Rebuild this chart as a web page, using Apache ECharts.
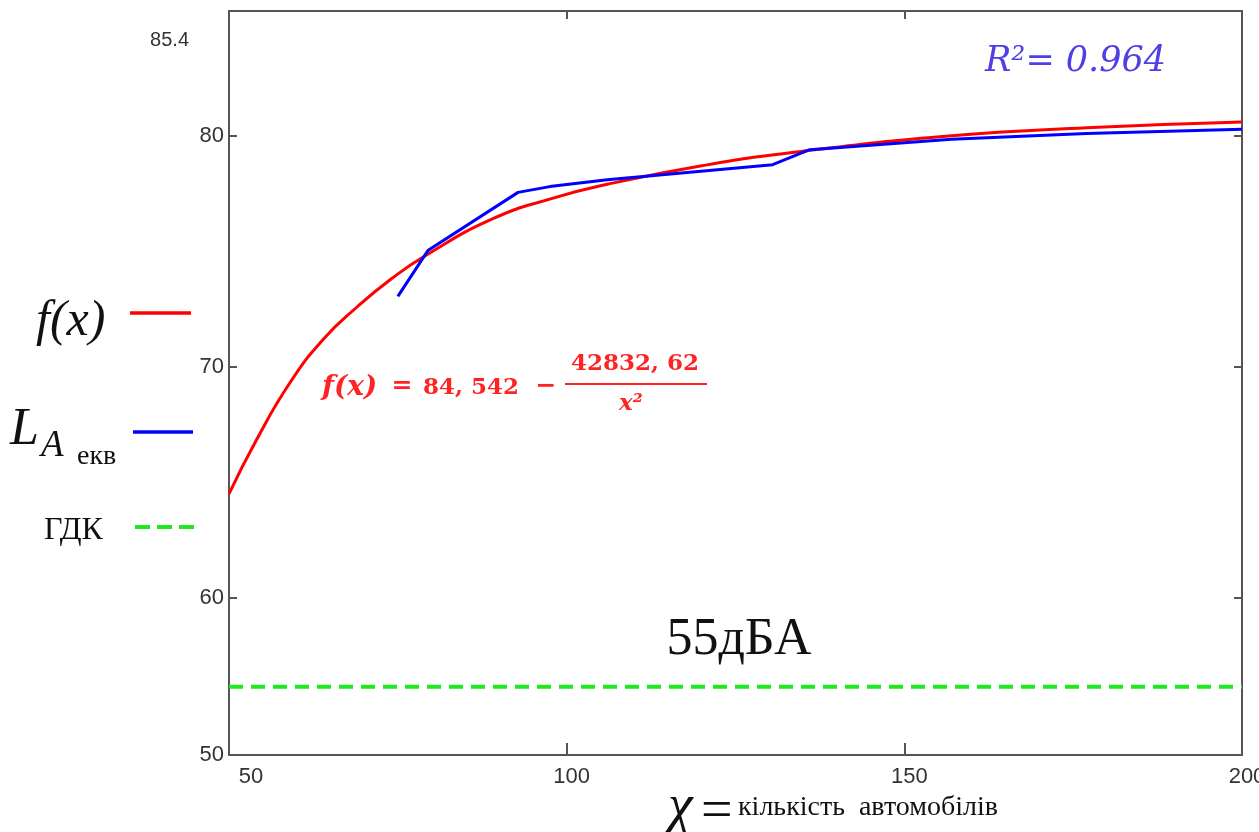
<!DOCTYPE html>
<html>
<head>
<meta charset="utf-8">
<script src="https://cdn.jsdelivr.net/npm/echarts@6/dist/echarts.min.js"></script>
<style>
  html, body { margin: 0; padding: 0; background: #fff; }
  #chart { width: 1259px; height: 832px; }
</style>
</head>
<body>
<div id="chart"></div>
<script>
// апроксимація f(x)
const fxX = [50, 54, 59, 64, 69, 74, 79, 89, 98, 106, 120, 134, 157, 177, 200]
const fxY = [64.5, 66.8, 69.3, 71.2, 72.6, 73.8, 74.8, 76.4, 77.3, 77.9, 78.7, 79.3, 80.0, 80.35, 80.6]

// виміряний LAекв
const laX = [75, 79.5, 92.8, 97.5, 106, 130.5, 136, 157, 177, 200]
const laY = [73.05, 75.05, 77.55, 77.8, 78.1, 78.75, 79.4, 79.85, 80.1, 80.28]

// ГДК
const gdkX = [50, 200]
const gdkLevel = 56.15

const xTickValues = [100, 150]
const xLabelValues = [50, 100, 150, 200]
const yTickValues = [60, 70, 80]
const yLabelValues = [53.2, 60, 70, 80, 85.4]
const yLabelText = ['50', '60', '70', '80', '85.4']

const axisColor = '#555'
const labelFont = "'Liberation Sans Narrow', 'Liberation Sans', sans-serif"
const serif = "'Liberation Serif', serif"
const dvSerif = "'DejaVu Serif', serif"

const chart = echarts.init(document.getElementById('chart'))

const txt = (x, y, text, o) => ({
  type: 'text', x, y, silent: true,
  style: Object.assign({
    text,
    fill: '#000',
    align: 'left', textAlign: 'left',
    verticalAlign: 'middle', textVerticalAlign: 'middle'
  }, o)
})

const line = (x1, y1, x2, y2, stroke, w, dash) => ({
  type: 'line', silent: true,
  shape: { x1, y1, x2, y2 },
  style: { stroke, lineWidth: w, lineDash: dash || null }
})

const red = '#ff2424'

const option = {
  backgroundColor: '#fff',
  animation: false,
  grid: { left: 229, right: 17, top: 11, bottom: 77, outerBoundsMode: 'none', containLabel: false },
  xAxis: [
    {
      type: 'value', min: 50, max: 200,
      axisLine: { lineStyle: { color: axisColor, width: 2 } },
      axisTick: { inside: true, length: 12, customValues: xTickValues, lineStyle: { color: axisColor, width: 2 } },
      splitLine: { show: false },
      axisLabel: {
        customValues: xLabelValues,
        margin: 11,
        color: '#333',
        fontFamily: labelFont,
        fontSize: 22,
        formatter: v => v === 50 ? '{first|50}' : '{n|' + v + '}',
        rich: {
          first: { padding: [0, 0, 0, 44], fontFamily: labelFont, fontSize: 22, color: '#333' },
          n: { padding: [0, 0, 0, 10], fontFamily: labelFont, fontSize: 22, color: '#333' }
        }
      }
    },
    {
      type: 'value', min: 50, max: 200, position: 'top',
      axisLine: { show: true, lineStyle: { color: axisColor, width: 2 } },
      axisTick: { inside: true, length: 8, customValues: xTickValues, lineStyle: { color: axisColor, width: 2 } },
      axisLabel: { show: false },
      splitLine: { show: false }
    }
  ],
  yAxis: [
    {
      type: 'value', min: 53.2, max: 85.4,
      axisLine: { show: true, lineStyle: { color: axisColor, width: 2 } },
      axisTick: { show: true, inside: true, length: 8, customValues: yTickValues, lineStyle: { color: axisColor, width: 2 } },
      splitLine: { show: false },
      axisLabel: {
        customValues: yLabelValues,
        margin: 5,
        color: '#333',
        fontFamily: labelFont,
        fontSize: 22,
        formatter: v => {
          const t = yLabelText[yLabelValues.indexOf(v)]
          return v === 85.4 ? '{top|' + t + '}' : t
        },
        rich: {
          top: { padding: [58, 35, 0, 0], fontFamily: labelFont, fontSize: 20, color: '#333' }
        }
      }
    },
    {
      type: 'value', min: 53.2, max: 85.4, position: 'right',
      axisLine: { show: true, lineStyle: { color: axisColor, width: 2 } },
      axisTick: { show: true, inside: true, length: 8, customValues: yTickValues, lineStyle: { color: axisColor, width: 2 } },
      axisLabel: { show: false },
      splitLine: { show: false }
    }
  ],
  series: [
    {
      name: 'f(x)',
      type: 'line',
      smooth: 0.5,
      showSymbol: false,
      data: fxX.map((x, i) => [x, fxY[i]]),
      lineStyle: { color: '#ff0000', width: 3 },
      z: 2
    },
    {
      name: 'LAекв',
      type: 'line',
      showSymbol: false,
      data: laX.map((x, i) => [x, laY[i]]),
      lineStyle: { color: '#0000ff', width: 3 },
      z: 3
    },
    {
      name: 'ГДК',
      type: 'line',
      showSymbol: false,
      data: gdkX.map(x => [x, gdkLevel]),
      lineStyle: { color: '#1ee81e', width: 4, type: [14, 8] },
      z: 2
    }
  ],
  graphic: [
    // легенда зліва
    txt(36, 322, 'f(x)', { fontFamily: serif, fontStyle: 'italic', fontSize: 50, fill: '#111' }),
    line(130, 313, 191, 313, '#ff0000', 3.5),
    txt(10, 430, 'L', { fontFamily: serif, fontStyle: 'italic', fontSize: 52, fill: '#111' }),
    txt(41, 446, 'A', { fontFamily: serif, fontStyle: 'italic', fontSize: 37, fill: '#111' }),
    txt(77, 457, 'екв', { fontFamily: serif, fontSize: 28, fill: '#111' }),
    line(133, 432, 193, 432, '#0000ff', 3.5),
    txt(44, 531, 'ГДК', { fontFamily: serif, fontSize: 32, fill: '#111' }),
    line(135, 527, 199, 527, '#1ee81e', 4, [15, 7]),

    // R²
    txt(985, 62, 'R²= 0.964', { fontFamily: dvSerif, fontStyle: 'italic', fontSize: 35, fill: '#4f3fe6' }),

    // формула
    txt(322, 388, 'f(x)', { fontFamily: dvSerif, fontStyle: 'italic', fontWeight: 'bold', fontSize: 28, fill: red }),
    txt(402, 386, '=', { fontFamily: dvSerif, fontWeight: 'bold', fontSize: 25, fill: red, align: 'center', textAlign: 'center' }),
    txt(423, 388, '84, 542', { fontFamily: dvSerif, fontWeight: 'bold', fontSize: 23, fill: red }),
    txt(546, 386, '−', { fontFamily: dvSerif, fontWeight: 'bold', fontSize: 25, fill: red, align: 'center', textAlign: 'center' }),
    txt(635, 364, '42832, 62', { fontFamily: dvSerif, fontWeight: 'bold', fontSize: 23, fill: red, align: 'center', textAlign: 'center' }),
    line(565, 384, 707, 384, red, 2),
    txt(631, 404, 'x²', { fontFamily: dvSerif, fontStyle: 'italic', fontWeight: 'bold', fontSize: 23, fill: red, align: 'center', textAlign: 'center' }),

    // рівень
    txt(739, 640, '55дБА', { fontFamily: serif, fontSize: 52, fill: '#111', align: 'center', textAlign: 'center' }),

    // підпис осі x
    txt(668, 808, 'χ', { fontFamily: serif, fontStyle: 'italic', fontSize: 56, fill: '#111' }),
    txt(701, 813, '=', { fontFamily: serif, fontSize: 56, fill: '#111' }),
    txt(738, 808, 'кількість  автомобілів', { fontFamily: serif, fontSize: 28, fill: '#111' })
  ]
}

chart.setOption(option)
</script>
</body>
</html>
